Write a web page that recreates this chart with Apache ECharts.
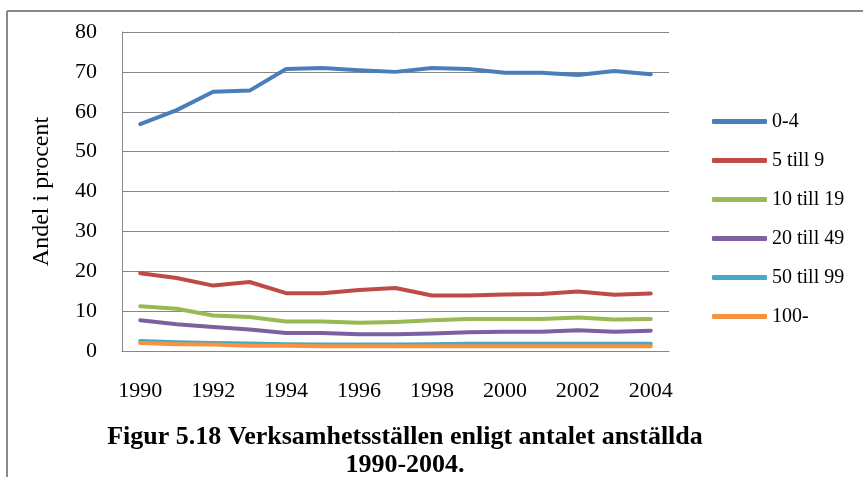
<!DOCTYPE html>
<html>
<head>
<meta charset="utf-8">
<script src="https://cdn.jsdelivr.net/npm/echarts@6/dist/echarts.min.js"></script>
<style>
html,body{margin:0;padding:0;background:#fff;}
#chart{width:863px;height:477px;}
</style>
</head>
<body>
<div id="chart"></div>
<script>
const years = ['1990','1991','1992','1993','1994','1995','1996','1997','1998','1999','2000','2001','2002','2003','2004'];
const seriesNames = ['0-4','5 till 9','10 till 19','20 till 49','50 till 99','100-'];
const s0_4     = [56.9, 60.4, 65.0, 65.3, 70.7, 71.0, 70.4, 70.0, 71.0, 70.7, 69.8, 69.8, 69.2, 70.2, 69.4];
const s5_9     = [19.5, 18.3, 16.4, 17.3, 14.5, 14.5, 15.3, 15.8, 13.9, 13.9, 14.2, 14.3, 14.9, 14.1, 14.4];
const s10_19   = [11.2, 10.6, 8.9, 8.5, 7.4, 7.4, 7.1, 7.3, 7.7, 8.0, 8.0, 8.0, 8.4, 7.9, 8.0];
const s20_49   = [7.7, 6.7, 6.0, 5.4, 4.5, 4.5, 4.2, 4.2, 4.4, 4.7, 4.8, 4.8, 5.2, 4.8, 5.1];
const s50_99   = [2.5, 2.2, 2.0, 1.9, 1.7, 1.6, 1.6, 1.6, 1.7, 1.8, 1.8, 1.8, 1.8, 1.8, 1.8];
const s100     = [2.0, 1.7, 1.6, 1.3, 1.3, 1.2, 1.2, 1.2, 1.2, 1.2, 1.2, 1.2, 1.2, 1.2, 1.2];
const yTicks = [0, 10, 20, 30, 40, 50, 60, 70, 80];
const titleText = 'Figur 5.18 Verksamhetsställen enligt antalet anställda\n1990-2004.';
const yName = 'Andel i procent';

const colors = ['#4A7EBB','#BE4B48','#98B954','#7D60A0','#46AAC5','#F69240'];
const values = [s0_4, s5_9, s10_19, s20_49, s50_99, s100];
const serif = '"Liberation Serif", "DejaVu Serif", serif';

const chart = echarts.init(document.getElementById('chart'), null, {renderer:'canvas'});
chart.setOption({
  animation:false,
  backgroundColor:'#fff',
  color: colors,
  grid:{left:122, right:194, top:32, bottom:126, containLabel:false},
  xAxis:{
    type:'category',
    data: years,
    boundaryGap:true,
    axisLine:{show:true, lineStyle:{color:'#868686', width:1}},
    axisTick:{show:false},
    axisLabel:{interval:1, margin:29, fontFamily:serif, fontSize:22, color:'#000'}
  },
  yAxis:{
    type:'value',
    min:yTicks[0], max:yTicks[yTicks.length-1], interval:10,
    name: yName,
    nameLocation:'middle',
    nameGap:68,
    nameRotate:90,
    nameTextStyle:{fontFamily:serif, fontSize:24, color:'#000'},
    axisLine:{show:true, lineStyle:{color:'#868686', width:1}},
    axisTick:{show:false},
    axisLabel:{margin:25, fontFamily:serif, fontSize:22, color:'#000'},
    splitLine:{show:true, lineStyle:{color:'#868686', width:1}}
  },
  legend:{
    orient:'vertical',
    left:707, top:106,
    itemWidth:55, itemHeight:5,
    itemGap:18,
    icon:'roundRect',
    textStyle:{fontFamily:serif, fontSize:20, color:'#000', lineHeight:21},
    data: seriesNames
  },
  series: seriesNames.map((n,i)=>({
    name:n, type:'line', data: values[i],
    symbol:'none', smooth:false,
    lineStyle:{width:4, color:colors[i], cap:'round', join:'round'},
    itemStyle:{color:colors[i]}
  })),
  graphic:[
    {type:'line', shape:{x1:7, y1:11, x2:863, y2:11}, style:{stroke:'#8a8a8a', lineWidth:2}},
    {type:'line', shape:{x1:7, y1:11, x2:7, y2:477}, style:{stroke:'#8a8a8a', lineWidth:2}},
    {type:'text', x:405, y:451, style:{text:titleText, fontFamily:serif, fontSize:26, fontWeight:'bold', fill:'#000', align:'center', verticalAlign:'middle', lineHeight:28}}
  ]
});
</script>
</body>
</html>
